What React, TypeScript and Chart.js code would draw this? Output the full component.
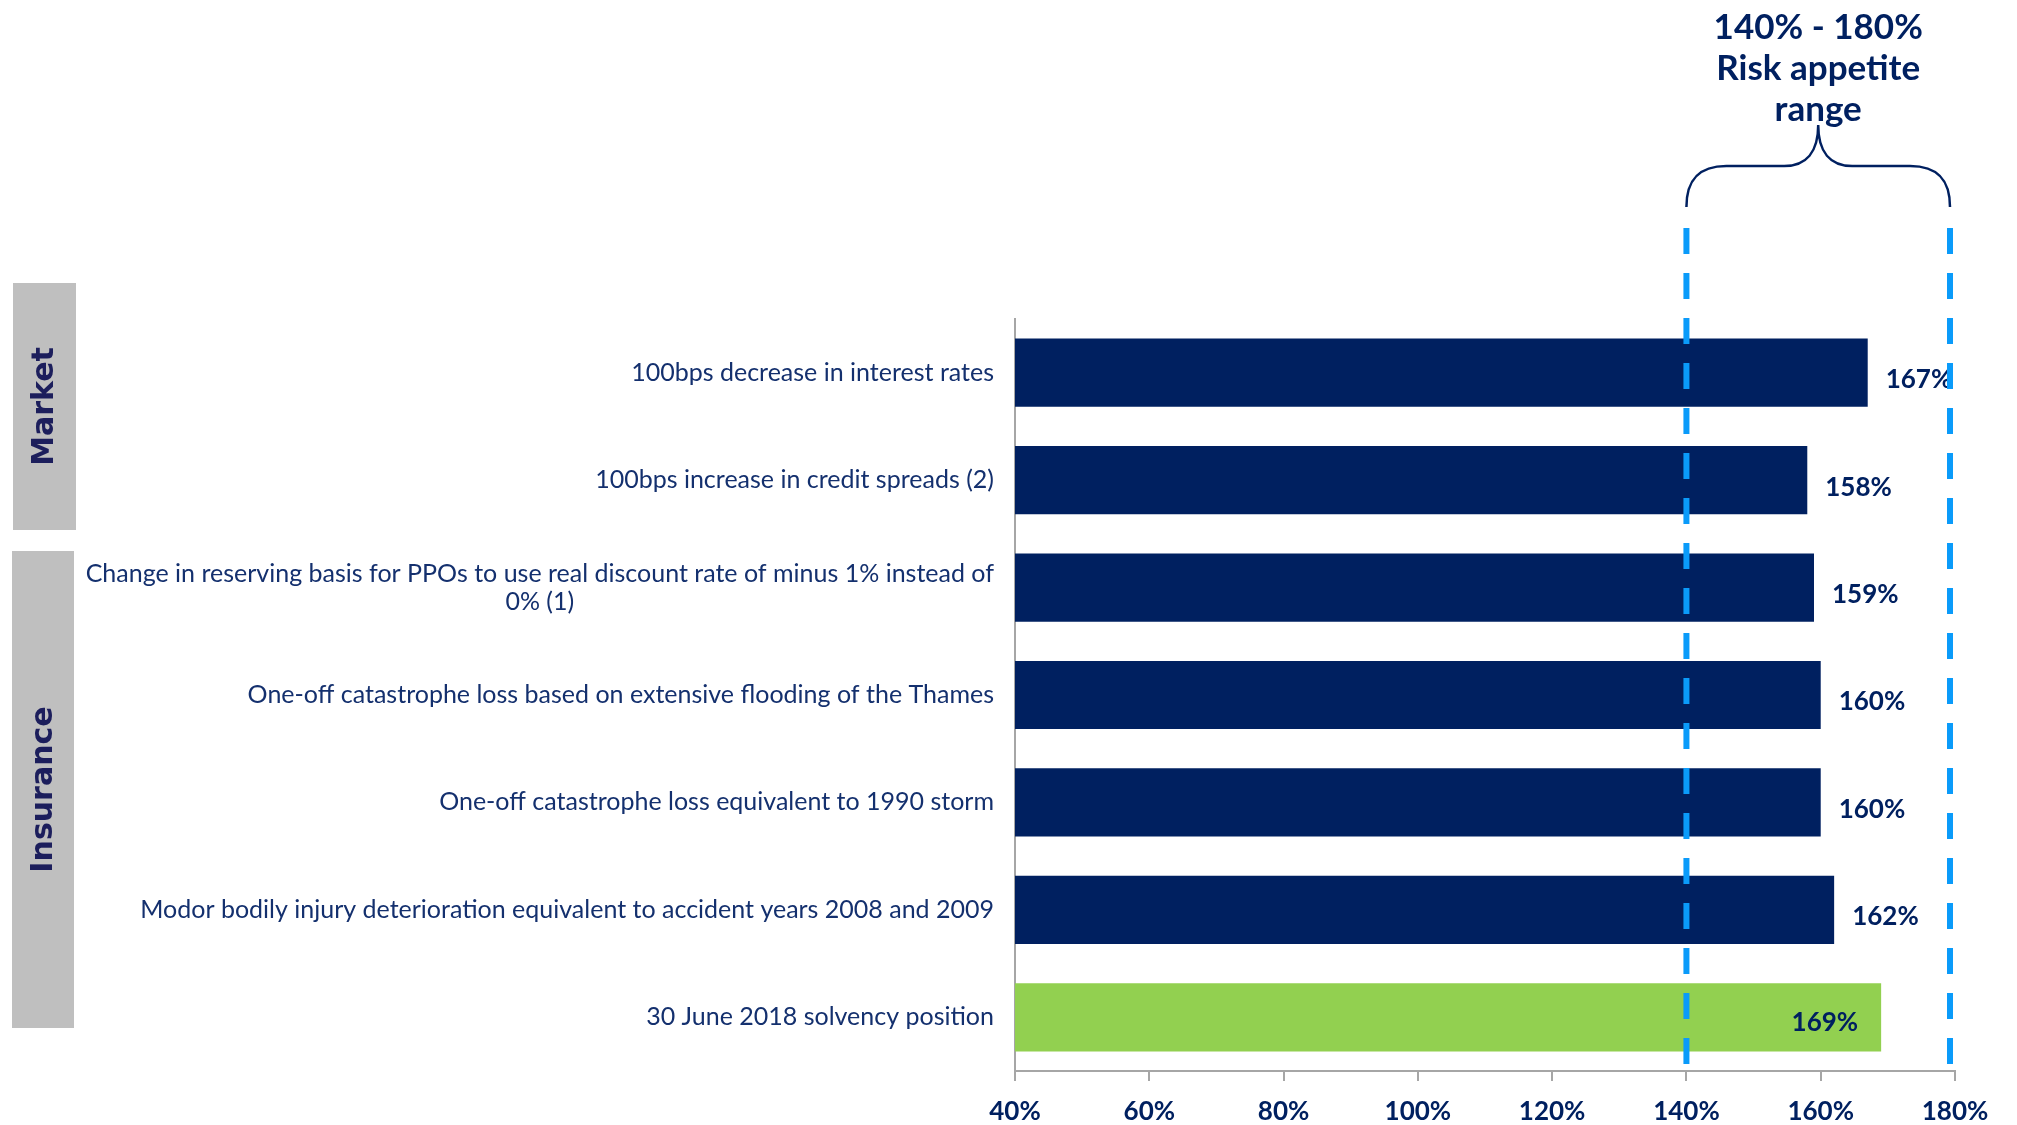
import React, { useEffect, useRef } from "react";
import { Chart, registerables } from "chart.js";

Chart.register(...registerables);

const categories: string[][] = [
  ["100bps decrease in interest rates"],
  ["100bps increase in credit spreads (2)"],
  ["Change in reserving basis for PPOs to use real discount rate of minus 1% instead of", "0% (1)"],
  ["One-off catastrophe loss based on extensive flooding of the Thames"],
  ["One-off catastrophe loss equivalent to 1990 storm"],
  ["Modor bodily injury deterioration equivalent to accident years 2008 and 2009"],
  ["30 June 2018 solvency position"],
];
const solvencyValues = [167, 158, 159, 160, 160, 162, 169];
const barColors = ["#002060", "#002060", "#002060", "#002060", "#002060", "#002060", "#92D050"];
const labelInside = [false, false, false, false, false, false, true];
const xMin = 40;
const xMax = 180;
const xStep = 20;
const appetiteLow = 140;
const appetiteHigh = 180;
const titleLines = ["140% - 180%", "Risk appetite", "range"];
const groupNames = ["Market", "Insurance"];

const NAVY = "#002060";
const TEXT_NAVY = "#14306E";

const overlayPlugin = {
  id: "overlay",
  afterDraw(chart: any) {
    const ctx = chart.ctx;
    const x = chart.scales.x;
    const y = chart.scales.y;
    const area = chart.chartArea;
    ctx.save();

    // group boxes
    const boxes = [
      { x: 13, y: 283, w: 63, h: 247 },
      { x: 12, y: 551, w: 62, h: 477 },
    ];
    boxes.forEach((b, i) => {
      ctx.fillStyle = "#BFBFBF";
      ctx.fillRect(b.x, b.y, b.w, b.h);
      ctx.save();
      ctx.translate(b.x + b.w / 2, b.y + b.h / 2);
      ctx.rotate(-Math.PI / 2);
      ctx.fillStyle = "#1C1E5C";
      ctx.font = "bold 30px 'DejaVu Sans'";
      ctx.textAlign = "center";
      ctx.textBaseline = "middle";
      ctx.fillText(groupNames[i], 0, 1);
      ctx.restore();
    });

    // y category labels
    ctx.font = "25px Lato";
    ctx.fillStyle = TEXT_NAVY;
    ctx.textBaseline = "middle";
    ctx.textAlign = "center";
    const rightEdge = area.left - 21;
    const lh = 28;
    categories.forEach((lines, i) => {
      const cy = y.getPixelForTick(i);
      const maxW = Math.max(...lines.map((l) => ctx.measureText(l).width));
      const cx = rightEdge - maxW / 2;
      const start = cy - ((lines.length - 1) * lh) / 2;
      lines.forEach((l, j) => ctx.fillText(l, cx, start + j * lh));
    });

    // value labels
    const meta = chart.getDatasetMeta(0);
    ctx.font = "bold 26px Lato";
    ctx.fillStyle = NAVY;
    ctx.textBaseline = "middle";
    meta.data.forEach((bar: any, i: number) => {
      const txt = solvencyValues[i] + "%";
      if (labelInside[i]) {
        ctx.textAlign = "right";
        ctx.fillText(txt, bar.x - 23, bar.y + 5);
      } else {
        ctx.textAlign = "left";
        ctx.fillText(txt, bar.x + 18, bar.y + 7);
      }
    });

    // dashed lines
    const xl = x.getPixelForValue(appetiteLow);
    const xr = x.getPixelForValue(appetiteHigh) - 5;
    ctx.strokeStyle = "#0A9BFA";
    ctx.lineWidth = 6;
    ctx.setLineDash([26, 19]);
    [xl, xr].forEach((px) => {
      ctx.beginPath();
      ctx.moveTo(px, 228);
      ctx.lineTo(px, area.bottom);
      ctx.stroke();
    });
    ctx.setLineDash([]);

    // brace
    const xm = (xl + xr) / 2;
    ctx.strokeStyle = NAVY;
    ctx.lineWidth = 2.5;
    ctx.beginPath();
    ctx.moveTo(xl, 207);
    ctx.bezierCurveTo(xl, 180, xl + 12, 166, xl + 40, 166);
    ctx.lineTo(xm - 34, 166);
    ctx.bezierCurveTo(xm - 12, 166, xm, 152, xm, 125);
    ctx.bezierCurveTo(xm, 152, xm + 12, 166, xm + 34, 166);
    ctx.lineTo(xr - 40, 166);
    ctx.bezierCurveTo(xr - 12, 166, xr, 180, xr, 207);
    ctx.stroke();

    // title
    ctx.font = "bold 35px Lato";
    ctx.fillStyle = NAVY;
    ctx.textAlign = "center";
    ctx.textBaseline = "alphabetic";
    const baselines = [39, 80, 121];
    titleLines.forEach((t, i) => ctx.fillText(t, xm, baselines[i]));

    ctx.restore();
  },
};

export default function App() {
  const ref = useRef<HTMLCanvasElement | null>(null);
  useEffect(() => {
    if (!ref.current) return;
    const chart = new Chart(ref.current, {
      type: "bar",
      data: {
        labels: categories.map((c) => c.join(" ")),
        datasets: [
          {
            data: solvencyValues,
            backgroundColor: barColors,
            borderWidth: 0,
            barPercentage: 0.635,
            categoryPercentage: 1,
          },
        ],
      },
      options: {
        indexAxis: "y",
        animation: false,
        responsive: true,
        maintainAspectRatio: false,
        layout: { padding: { left: 1015, right: 62, top: 319, bottom: 0 } },
        plugins: { legend: { display: false }, tooltip: { enabled: false } },
        scales: {
          x: {
            min: xMin,
            max: xMax,
            afterFit: (s: any) => {
              s.height = 54;
            },
            ticks: {
              stepSize: xStep,
              padding: 15,
              color: NAVY,
              font: { family: "Lato", weight: "bold", size: 26 },
              callback: (v: any) => v + "%",
            },
            grid: {
              drawOnChartArea: false,
              drawTicks: true,
              tickLength: 10,
              color: "#A6A6A6",
              lineWidth: 2,
            },
            border: { display: true, color: "#A6A6A6", width: 2 },
          },
          y: {
            afterFit: (s: any) => {
              s.width = 0;
            },
            ticks: { display: false },
            grid: { display: false, drawTicks: false },
            border: { display: true, color: "#A6A6A6", width: 2 },
          },
        },
      },
      plugins: [overlayPlugin],
    });
    return () => chart.destroy();
  }, []);
  return (
    <div style={{ position: "fixed", left: 0, top: 0, width: 2017, height: 1125, background: "#fff" }}>
      <canvas ref={ref} />
    </div>
  );
}
